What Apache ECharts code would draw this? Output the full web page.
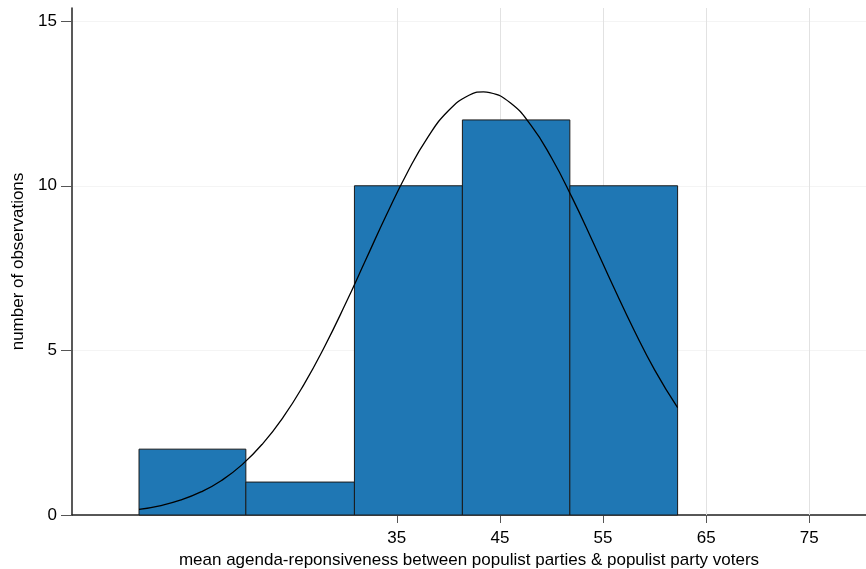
<!DOCTYPE html>
<html>
<head>
<meta charset="utf-8">
<script src="https://cdn.jsdelivr.net/npm/echarts@6/dist/echarts.min.js"></script>
<style>
html,body{margin:0;padding:0;background:#fff;}
#chart{width:866px;height:569px;}
</style>
</head>
<body>
<div id="chart"></div>
<script>
// Histogram bins (edges) and counts
const binEdges = [10.0, 20.36, 30.89, 41.36, 51.78, 62.23];
const counts = [2, 1, 10, 12, 10];
// Overlaid density curve
const curveX = [10, 12, 14, 16, 18, 20, 22, 24, 26, 28, 30, 32, 34, 36, 38, 40, 42, 43.4, 44, 46, 48, 50, 52, 54, 56, 58, 60, 62.23];
const curveY = [0.17, 0.28, 0.45, 0.70, 1.05, 1.53, 2.17, 2.98, 3.97, 5.12, 6.40, 7.76, 9.12, 10.39, 11.47, 12.28, 12.75, 12.85, 12.83, 12.52, 11.84, 10.85, 9.64, 8.31, 6.94, 5.62, 4.41, 3.26];
const xTicks = [35, 45, 55, 65, 75];
const yTicks = [0, 5, 10, 15];

const barData = counts.map((c, i) => [binEdges[i], binEdges[i + 1], c]);
const curveData = curveX.map((x, i) => [x, curveY[i]]);

const chart = echarts.init(document.getElementById('chart'), null, {renderer: 'canvas'});
const font = 'Liberation Sans, Arial, sans-serif';
chart.setOption({
  animation: false,
  backgroundColor: '#ffffff',
  grid: {left: 72, right: 0, top: 8, bottom: 54, containLabel: false, outerBoundsMode: 'none'},
  xAxis: {
    type: 'value',
    min: 3.5,
    max: 80.5,
    name: 'mean agenda-reponsiveness between populist parties & populist party voters',
    nameLocation: 'middle',
    nameGap: 36,
    nameTextStyle: {fontFamily: font, fontSize: 17, color: '#000'},
    axisLine: {show: true, onZero: false, lineStyle: {color: '#222', width: 1.5}},
    axisTick: {show: true, customValues: xTicks, length: 8, lineStyle: {color: '#555', width: 1}},
    axisLabel: {customValues: xTicks, fontFamily: font, fontSize: 17, color: '#000', margin: 15},
    splitLine: {show: false}
  },
  yAxis: {
    type: 'value',
    min: 0,
    max: 15.4,
    interval: 5,
    name: 'number of observations',
    nameLocation: 'middle',
    nameGap: 43,
    nameRotate: 90,
    nameTextStyle: {fontFamily: font, fontSize: 17, color: '#000'},
    axisLine: {show: true, lineStyle: {color: '#222', width: 1.5}},
    axisTick: {show: true, customValues: yTicks, length: 11, lineStyle: {color: '#555', width: 1}},
    axisLabel: {customValues: yTicks, fontFamily: font, fontSize: 17, color: '#000', margin: 15},
    splitLine: {show: true, lineStyle: {color: '#f4f4f4', width: 1}}
  },
  series: [
    {
      type: 'line',
      data: [],
      z: 1,
      silent: true,
      markLine: {
        silent: true,
        symbol: 'none',
        z: 1,
        label: {show: false},
        lineStyle: {color: '#e2e2e2', width: 1, type: 'solid'},
        data: xTicks.map(v => ({xAxis: v}))
      }
    },
    {
      type: 'custom',
      z: 2,
      data: barData,
      renderItem: function (params, api) {
        const p0 = api.coord([api.value(0), api.value(2)]);
        const p1 = api.coord([api.value(1), 0]);
        return {
          type: 'rect',
          shape: {x: p0[0], y: p0[1], width: p1[0] - p0[0], height: p1[1] - p0[1]},
          style: {fill: '#1f77b4', stroke: '#1a1a1a', lineWidth: 1}
        };
      }
    },
    {
      type: 'line',
      z: 3,
      data: curveData,
      smooth: true,
      showSymbol: false,
      symbol: 'none',
      lineStyle: {color: '#000', width: 1.3}
    }
  ]
});
</script>
</body>
</html>
